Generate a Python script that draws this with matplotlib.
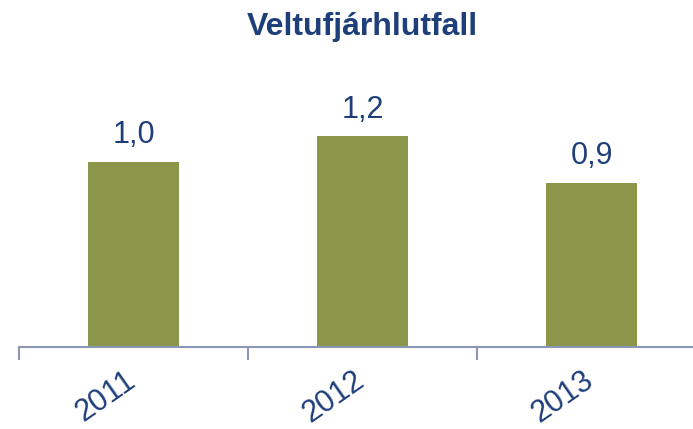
import matplotlib
matplotlib.use("Agg")
import matplotlib.pyplot as plt

categories = ["2011", "2012", "2013"]
values = [1.03, 1.17, 0.91]
title = "Veltufjárhlutfall"

plt.rcParams['font.family'] = ['Liberation Sans', 'DejaVu Sans']
text_color = "#1F3F7A"
bar_color = "#8B964A"
axis_color = "#8C96B4"

W, H = 693, 429
fig = plt.figure(figsize=(W/100, H/100), dpi=100)
left = 19 / W
bottom = 82 / H
ax = fig.add_axes([left, bottom, 687 / W, 270 / H])

x = list(range(len(categories)))
bars = ax.bar(x, values, width=0.4, color=bar_color, zorder=2)
for xi, v in zip(x, values):
    ax.text(xi, v + 0.065, f"{v:.1f}".replace(".", ","), ha="center", va="bottom",
            fontsize=22, color=text_color)

ax.set_xlim(-0.5, len(categories) - 0.5)
ax.set_ylim(0, 1.5)
for s in ["top", "right", "left"]:
    ax.spines[s].set_visible(False)
ax.spines["bottom"].set_color(axis_color)
ax.spines["bottom"].set_linewidth(1.5)
ax.set_yticks([])

ax.set_xticks([i - 0.5 for i in range(len(categories) + 1)])
ax.set_xticklabels([])
ax.tick_params(axis="x", length=9, width=1.5, color=axis_color)
for xi, c in zip(x, categories):
    ax.text(xi - 0.04, -0.10, c, rotation=35, rotation_mode="anchor", ha="right", va="top",
            fontsize=22, color=text_color, transform=ax.transData, clip_on=False)

fig.text(362 / W, 1 - 27 / H, title, ha="center", va="center", fontsize=23,
         fontweight="bold", color=text_color)

fig.savefig("out.png", dpi=100)
